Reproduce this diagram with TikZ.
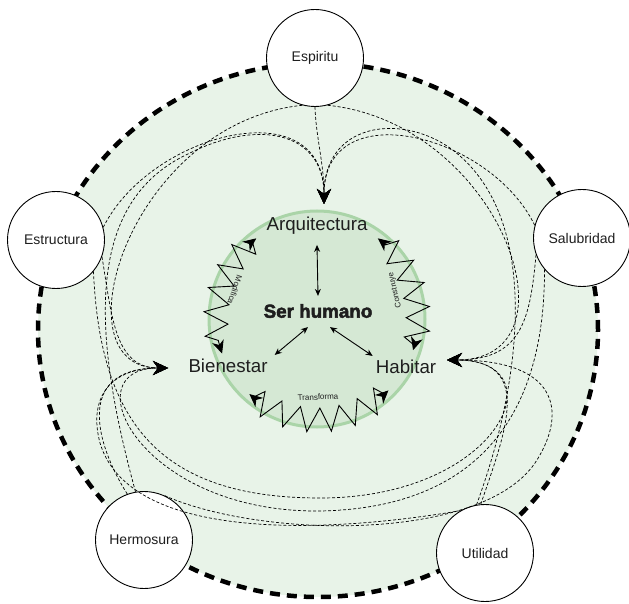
\documentclass[tikz,border=0pt]{standalone}
\usepackage{fontspec}
\setmainfont{Liberation Sans}
\setsansfont{Liberation Sans}
\newfontfamily\humanfont[FakeBold=2.5]{Liberation Sans}
\usetikzlibrary{arrows.meta,decorations.pathmorphing}

\definecolor{ringfill}{RGB}{232,243,232}
\definecolor{corefill}{RGB}{213,232,212}
\definecolor{coreline}{RGB}{170,212,168}
\definecolor{labelgray}{RGB}{30,30,30}

\begin{document}
\begin{tikzpicture}[x=1pt,y=1pt]

  % Styles
  \tikzset{
    outer/.style={circle, draw=black, line width=0.9pt, fill=white, minimum size=97pt, inner sep=0pt, font=\fontsize{14}{14}\selectfont, text=labelgray},
    inner/.style={inner sep=0pt, font=\fontsize{18.7}{18.7}\selectfont, text=labelgray},
    verb/.style={inner sep=0pt, font=\fontsize{8}{8}\selectfont, text=labelgray},
    flow/.style={dash pattern=on 3pt off 2pt, line width=0.7pt, -{Stealth[length=15pt,width=14pt,inset=5pt]}},
    zig/.style={decorate, decoration={zigzag, segment length=22pt, amplitude=12pt, pre length=5pt, post length=5pt}, line width=0.9pt, {Stealth[length=13pt,width=12pt,inset=4pt]}-{Stealth[length=13pt,width=12pt,inset=4pt]}},
    link/.style={line width=0.9pt, {Stealth[length=7pt,width=6pt]}-{Stealth[length=7pt,width=6pt]}}
  }

  \useasboundingbox (0,0) rectangle (629,603);

  % Ring size
  \def\ringradius{101}

  % Outer dashed ring
  \draw[fill=ringfill, line width=4.5pt, dash pattern=on 10pt off 7pt] (318,273) ellipse [x radius=280, y radius=267];

  % Core circle
  \coordinate (core) at (317,284);
  \draw[fill=corefill, draw=coreline, line width=3pt] (core) circle [radius=108];

  % Zigzag arrows round the core
  \foreach \sa/\ea in {127/200, -18/53, 228/315} {
    \draw[zig] ([shift={(\sa:\ringradius)}]core) arc [start angle=\sa, end angle=\ea, radius=\ringradius];
  }

  % Words beside the zigzags
  \node[verb, rotate=-109] (modifica) at (235,313) {Modifica};
  \node[verb, rotate=103] (construye) at (395,313) {Construye};
  \node[verb, rotate=3] (transforma) at (318,206) {Transforma};

  % Inner labels
  \node[inner] (arq) at (317,377) {Arquitectura};
  \node[inner, font=\humanfont\bfseries\fontsize{18.8}{18.8}\selectfont] (ser) at (318,292) {Ser humano};
  \node[inner] (bien) at (228,237) {Bienestar};
  \node[inner] (hab) at (406,236) {Habitar};

  \draw[link] ([yshift=8pt]ser.north) -- ([yshift=-10pt]arq.south);
  \draw[link] ([xshift=-10pt,yshift=-9pt]ser.south) -- ([xshift=7pt,yshift=4pt]bien.north east);
  \draw[link] ([xshift=12pt,yshift=-9pt]ser.south) -- ([xshift=-3pt,yshift=4pt]hab.north west);

  % Outer circles
  \node[outer] (espiritu) at (315,545) {Espiritu};
  \node[outer] (estructura) at (56,363) {Estructura};
  \node[outer] (salubridad) at (582,365) {Salubridad};
  \node[outer] (hermosura) at (144,63) {Hermosura};
  \node[outer] (utilidad) at (485,50) {Utilidad};

  % Arrow targets
  \coordinate (tipA) at (324,399);
  \coordinate (tipB) at (168,235);
  \coordinate (tipH) at (447,243);

  % From Espiritu
  \draw[flow] (espiritu.south) .. controls (316,465) and (324,440) .. (tipA);
  \draw[flow] (espiritu.255) .. controls (130,480) and (55,235) .. (tipB);
  \draw[flow] (espiritu.285) .. controls (500,480) and (585,243) .. (tipH);

  % From Estructura
  \draw[flow] (estructura.15) .. controls (150,470) and (324,515) .. (tipA);
  \draw[flow] (estructura.-20) .. controls (112,285) and (115,235) .. (tipB);
  \draw[flow] (estructura.-40) .. controls (100,180) and (160,105) .. (320,105) .. controls (500,105) and (560,243) .. (tipH);

  % From Salubridad
  \draw[flow] (salubridad.165) .. controls (490,470) and (324,510) .. (tipA);
  \draw[flow] (salubridad.200) .. controls (530,280) and (520,243) .. (tipH);
  \draw[flow] (salubridad.220) .. controls (545,190) and (480,95) .. (320,92) .. controls (140,90) and (70,235) .. (tipB);

  % From Hermosura
  \draw[flow] (hermosura.100) .. controls (95,260) and (80,400) .. (190,450) .. controls (260,485) and (324,470) .. (tipA);
  \draw[flow] (hermosura.110) .. controls (95,160) and (75,235) .. (tipB);
  \draw[flow] (hermosura.65) .. controls (260,65) and (480,60) .. (535,140) .. controls (565,185) and (565,243) .. (tipH);

  % From Utilidad
  \draw[flow] (utilidad.100) .. controls (525,230) and (540,390) .. (450,455) .. controls (400,490) and (324,480) .. (tipA);
  \draw[flow] (utilidad.120) .. controls (330,70) and (130,60) .. (100,160) .. controls (88,205) and (110,235) .. (tipB);
  \draw[flow] (utilidad.95) .. controls (505,170) and (535,243) .. (tipH);

\end{tikzpicture}
\end{document}
